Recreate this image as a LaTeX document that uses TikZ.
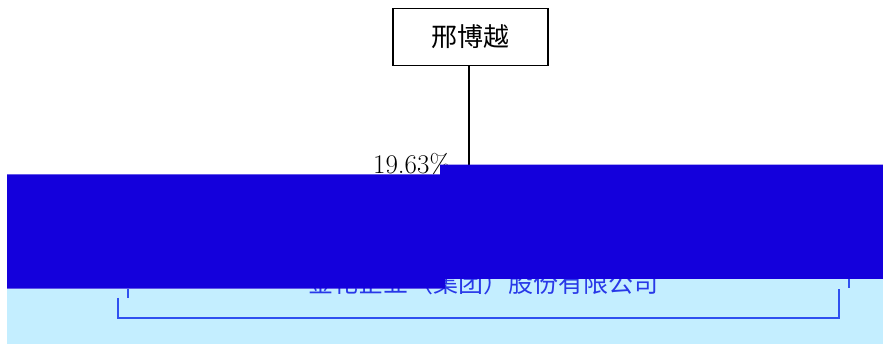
\documentclass[tikz,border=0pt]{standalone}
\usepackage{fontspec}
\newfontfamily\cjk{Noto Sans CJK SC}
\definecolor{deepblue}{RGB}{20,0,220}
\definecolor{paleblue}{RGB}{196,238,255}
\definecolor{lineblue}{RGB}{48,80,240}
\definecolor{textblue}{RGB}{40,56,232}
\tikzset{
  personbox/.style={draw=black, line width=1.8pt, minimum width=155, minimum height=57, inner sep=0pt, font=\cjk\fontsize{26}{30}\selectfont},
  pct/.style={inner sep=0pt, font=\fontsize{27}{30}\selectfont},
  companytext/.style={inner sep=0pt, text=textblue, font=\cjk\fontsize{25}{30}\selectfont},
  link/.style={draw=black, line width=1.8pt},
  bracket/.style={draw=lineblue, line width=1.8pt}
}
\begin{document}
\begin{tikzpicture}[x=1pt,y=-1pt]
\useasboundingbox (0,0) rectangle (883,344);
\fill[white] (0,0) rectangle (883,344);
% person
\node[personbox] (top) at (470.5,37) {邢博越};
\coordinate (join) at (469.3,170);
\draw[link] (top.south -| join) -- (join);
\node[pct, anchor=base west] (pctlabel) at (373,173.5) {19.63\%};
% pale lower band
\fill[paleblue] (7,288.7) -- (445,288.7) -- (445,279) -- (883,279) -- (883,344) -- (7,344) -- cycle;
% company (mostly hidden)
\node[companytext] (co) at (483,283) {金花企业（集团）股份有限公司};
% deep blue band
\fill[deepblue] (7,174.3) -- (440,174.3) -- (440,164.7) -- (883,164.7) -- (883,279) -- (445,279) -- (445,288.7) -- (7,288.7) -- cycle;
% visible parts of company frame
\draw[bracket] (117.7,298) -- (117.7,318) -- (839,318) -- (839,289);
\draw[bracket] (127.7,288.7) -- (127.7,298);
\draw[bracket] (848.7,279) -- (848.7,288.5);
\end{tikzpicture}
\end{document}
